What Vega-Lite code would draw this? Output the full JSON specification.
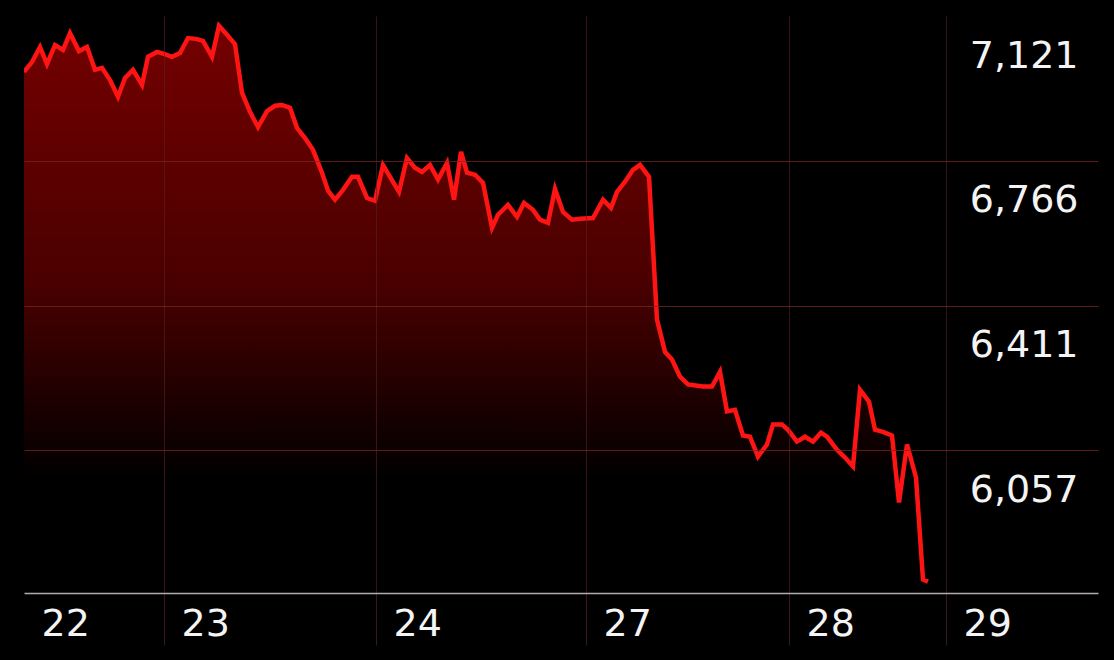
{
  "$schema": "https://vega.github.io/schema/vega-lite/v6.json",
  "width": 1074,
  "height": 577,
  "autosize": {"type": "none"},
  "padding": {"left": 24, "top": 16, "right": 16, "bottom": 67},
  "background": "#000000",
  "config": {"view": {"stroke": null}, "font": "DejaVu Sans"},
  "data": {"values": [
    {"step":0,"price":6984},{"step":8,"price":7008},{"step":16,"price":7045},{"step":23,"price":7003},{"step":31,"price":7050},
    {"step":39,"price":7038},{"step":46,"price":7079},{"step":55,"price":7035},{"step":63,"price":7045},{"step":71,"price":6989},
    {"step":78,"price":6994},{"step":86,"price":6964},{"step":94,"price":6923},{"step":101,"price":6969},{"step":109,"price":6989},
    {"step":118,"price":6952},{"step":124,"price":7021},{"step":133,"price":7033},{"step":140,"price":7028},{"step":148,"price":7021},
    {"step":156,"price":7030},{"step":164,"price":7067},{"step":172,"price":7065},{"step":179,"price":7060},{"step":188,"price":7021},
    {"step":195,"price":7097},{"step":203,"price":7075},{"step":211,"price":7052},{"step":218,"price":6933},{"step":226,"price":6886},
    {"step":234,"price":6849},{"step":243,"price":6888},{"step":251,"price":6901},{"step":258,"price":6903},{"step":266,"price":6896},
    {"step":273,"price":6847},{"step":281,"price":6822},{"step":289,"price":6793},{"step":298,"price":6737},{"step":304,"price":6693},
    {"step":311,"price":6671},{"step":319,"price":6695},{"step":328,"price":6727},{"step":334,"price":6727},{"step":343,"price":6675},
    {"step":351,"price":6668},{"step":359,"price":6756},{"step":366,"price":6727},{"step":375,"price":6690},{"step":383,"price":6773},
    {"step":391,"price":6749},{"step":398,"price":6739},{"step":406,"price":6756},{"step":414,"price":6720},{"step":423,"price":6761},
    {"step":430,"price":6671},{"step":437,"price":6788},{"step":443,"price":6737},{"step":451,"price":6732},{"step":459,"price":6712},
    {"step":468,"price":6602},{"step":474,"price":6634},{"step":484,"price":6658},{"step":493,"price":6629},{"step":500,"price":6663},
    {"step":509,"price":6646},{"step":516,"price":6622},{"step":524,"price":6614},{"step":531,"price":6697},{"step":539,"price":6641},
    {"step":548,"price":6622},{"step":556,"price":6624},{"step":569,"price":6626},{"step":579,"price":6671},{"step":587,"price":6651},
    {"step":593,"price":6690},{"step":601,"price":6715},{"step":609,"price":6744},{"step":616,"price":6756},{"step":625,"price":6727},
    {"step":633,"price":6377},{"step":641,"price":6298},{"step":648,"price":6279},{"step":656,"price":6237},{"step":664,"price":6218},
    {"step":679,"price":6213},{"step":688,"price":6213},{"step":696,"price":6249},{"step":703,"price":6152},{"step":711,"price":6156},
    {"step":719,"price":6093},{"step":726,"price":6090},{"step":734,"price":6041},{"step":743,"price":6071},{"step":749,"price":6120},
    {"step":758,"price":6120},{"step":764,"price":6107},{"step":773,"price":6078},{"step":781,"price":6090},{"step":789,"price":6078},
    {"step":797,"price":6100},{"step":803,"price":6090},{"step":813,"price":6058},{"step":821,"price":6039},{"step":829,"price":6017},
    {"step":836,"price":6205},{"step":845,"price":6176},{"step":851,"price":6107},{"step":859,"price":6102},{"step":868,"price":6093},
    {"step":875,"price":5929},{"step":883,"price":6071},{"step":892,"price":5990},{"step":899,"price":5740},{"step":904,"price":5735}
  ]},
  "encoding": {
    "x": {
      "field": "step", "type": "quantitative",
      "scale": {"domain": [0, 1074], "nice": false, "zero": false},
      "axis": {
        "title": null, "zindex": 1,
        "values": [0, 140, 352, 562, 765, 922],
        "labelExpr": "datum.value==0?'22':datum.value==140?'23':datum.value==352?'24':datum.value==562?'27':datum.value==765?'28':'29'",
        "domain": true, "domainColor": "#b3abab", "domainWidth": 1.5,
        "ticks": true, "tickSize": 52, "tickColor": "#3a1818", "tickWidth": 1,
        "tickOpacity": {"condition": {"test": "datum.value==0", "value": 0}, "value": 1},
        "grid": true, "gridColor": "#5a2222", "gridWidth": 1,
        "gridOpacity": {"condition": {"test": "datum.value==0", "value": 0}, "value": 0.6},
        "labelAlign": "left", "labelBaseline": "middle", "labelOffset": 17, "labelPadding": -21,
        "labelFontSize": 38, "labelFont": "DejaVu Sans", "labelColor": "#f4f4f4",
        "labelFlush": false, "labelOverlap": false, "labelBound": false
      }
    },
    "y": {
      "field": "price", "type": "quantitative",
      "scale": {"domain": [5707, 7121], "nice": false, "zero": false},
      "axis": {
        "title": null, "orient": "right", "zindex": 1,
        "values": [6057, 6411, 6766, 7121],
        "format": ",d",
        "domain": false, "ticks": false,
        "grid": true, "gridColor": "#7a2424", "gridWidth": 1,
        "gridOpacity": {"condition": {"test": "datum.value==7121", "value": 0}, "value": 0.75},
        "labelAlign": "right", "labelBaseline": "middle", "labelOffset": 40, "labelPadding": -20,
        "labelFontSize": 38, "labelFont": "DejaVu Sans", "labelColor": "#f4f4f4",
        "labelFlush": false, "labelOverlap": false, "labelBound": false
      }
    }
  },
  "layer": [
    {
      "mark": {
        "type": "area", "clip": true,
        "color": {"gradient": "linear", "x1": 0, "y1": 0, "x2": 0, "y2": 1,
          "stops": [{"offset": 0, "color": "#740000"}, {"offset": 0.45, "color": "#4a0000"}, {"offset": 0.8, "color": "#000000"}, {"offset": 1, "color": "#000000"}]}
      },
      "encoding": {"y2": {"datum": 5707}}
    },
    {
      "mark": {"type": "line", "color": "#ff1414", "strokeWidth": 4.5, "strokeJoin": "miter", "clip": true}
    }
  ]
}
